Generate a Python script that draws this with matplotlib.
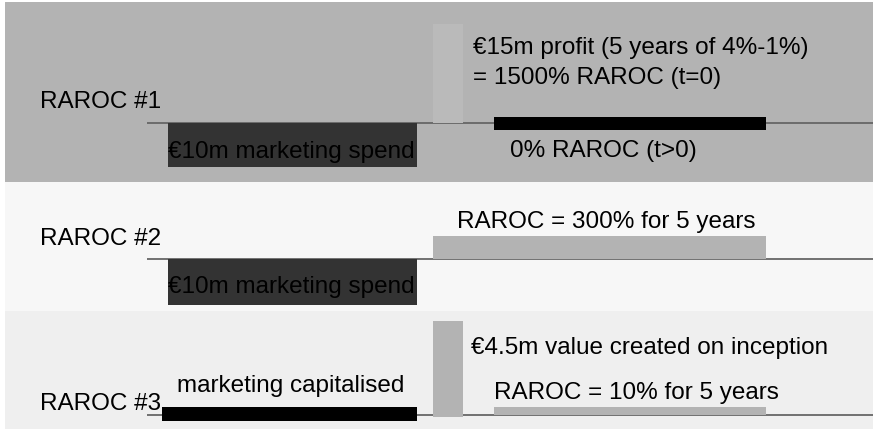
import matplotlib.pyplot as plt

plt.rcParams['font.family'] = ['Liberation Sans', 'DejaVu Sans']

# panel layout (figure pixels): top, bottom, baseline
panel_names = ['RAROC #1', 'RAROC #2', 'RAROC #3']
panel_top = [3, 183, 312]
panel_bottom = [183, 312, 430]
panel_base = [124, 260, 416]
panel_bg = ['#b3b3b3', '#f7f7f7', '#efefef']

# bars per panel: (x start, width, bottom, height, colour)
bars = [
    [(168, 249, -44, 44, '#333333'),
     (433, 30, 0, 99, '#bababa'),
     (494, 272, -7, 13, '#000000')],
    [(168, 249, -46, 46, '#333333'),
     (433, 333, 0, 23, '#b3b3b3')],
    [(162, 255, -6, 14, '#000000'),
     (433, 30, -2, 96, '#b3b3b3'),
     (494, 272, 0, 8, '#b3b3b3')],
]

# labels per panel: (x, y above baseline, text)
labels = [
    [(473, 76, '€15m profit (5 years of 4%-1%)'),
     (473, 46, '= 1500% RAROC (t=0)'),
     (510, -27, '0% RAROC (t>0)'),
     (168, -28, '€10m marketing spend')],
    [(457, 38, 'RAROC = 300% for 5 years'),
     (168, -27, '€10m marketing spend')],
    [(471, 68, '€4.5m value created on inception'),
     (494, 23, 'RAROC = 10% for 5 years'),
     (177, 30, 'marketing capitalised')],
]
name_x = [40, 40, 40]
name_y = [22, 21, 12]

W, H = 873, 431
fig = plt.figure(figsize=(W / 100, H / 100), dpi=100)

for i in range(3):
    top, bot, base = panel_top[i], panel_bottom[i], panel_base[i]
    ax = fig.add_axes([5 / W, (H - bot) / H, (W - 5) / W, (bot - top) / H])
    ax.set_xlim(5, W)
    ax.set_ylim(-(bot - base), base - top)
    ax.axis('off')
    ax.add_patch(plt.Rectangle((0, 0), 1, 1, transform=ax.transAxes,
                               color=panel_bg[i], zorder=0))
    ax.hlines(0, 147, W, color='#666666', lw=1.3, zorder=1)
    for x0, w, b, h, c in bars[i]:
        ax.bar(x0, h, width=w, bottom=b, align='edge', color=c, zorder=2)
    for x, y, t in labels[i]:
        ax.text(x, y, t, fontsize=17.5, va='center', ha='left', color='black', zorder=3)
    ax.text(name_x[i], name_y[i], panel_names[i], fontsize=17.5, va='center',
            ha='left', color='black', zorder=3)

fig.savefig('out.png', dpi=100, facecolor='white')
